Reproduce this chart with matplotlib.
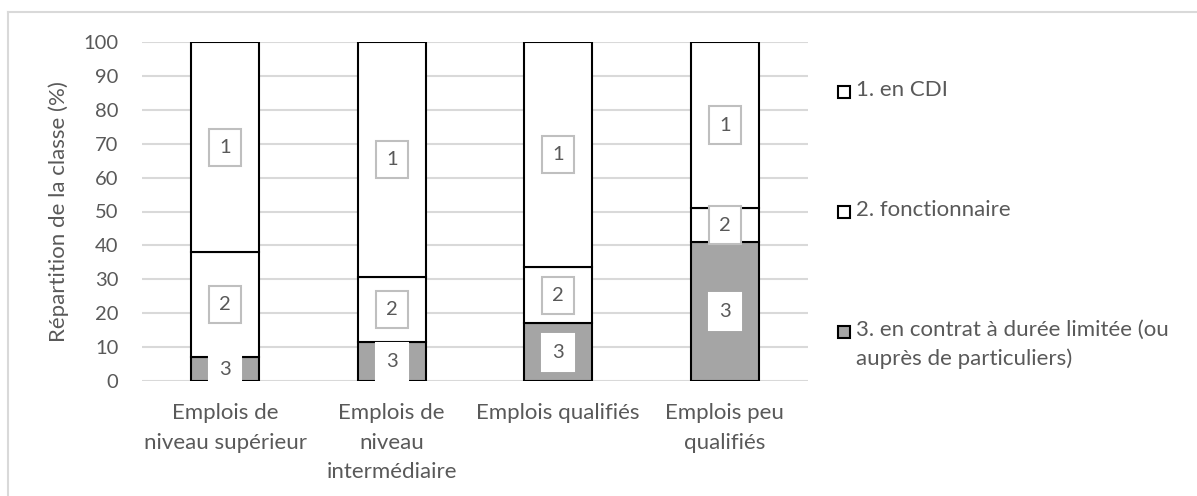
import numpy as np
import matplotlib.pyplot as plt
from matplotlib.patches import Rectangle
from matplotlib.lines import Line2D

plt.rcParams['font.family'] = ['Lato', 'DejaVu Sans']

categories = ['Emplois de\nniveau supérieur', 'Emplois de\nniveau\nintermédiaire',
              'Emplois qualifiés', 'Emplois peu\nqualifiés']
cdd = [7.0, 11.6, 17.0, 41.0]
fonctionnaire = [31.0, 19.2, 16.5, 10.0]
cdi = [62.0, 69.2, 66.5, 49.0]
legend_labels = ['1. en CDI', '2. fonctionnaire',
                 '3. en contrat à durée limitée (ou\nauprès de particuliers)']

txt = '#595959'
grid = '#d9d9d9'
grey = '#a5a5a5'
fs = 16      # category / legend text
fs_num = 14.5  # tick numbers and segment labels

W, H = 1197, 496
fig = plt.figure(figsize=(W / 100, H / 100), dpi=100)
ax = fig.add_axes([142 / W, 1 - 381 / H, (808 - 142) / W, (381 - 42) / H])

x = np.arange(len(categories))
w = 0.41
b3 = np.zeros(len(x))
b2 = b3 + np.array(cdd)
b1 = b2 + np.array(fonctionnaire)

ax.bar(x, cdd, w, bottom=b3, color=grey, edgecolor='black', linewidth=1.5, zorder=3)
ax.bar(x, fonctionnaire, w, bottom=b2, color='white', edgecolor='black', linewidth=1.5, zorder=3)
ax.bar(x, cdi, w, bottom=b1, color='white', edgecolor='black', linewidth=1.5, zorder=3)

# segment labels
box_grey = dict(boxstyle='square,pad=0.5', fc='white', ec='#bfbfbf', lw=1.5)
box_white = dict(boxstyle='square,pad=0.5', fc='white', ec='white', lw=1.5)
for i in range(len(x)):
    ax.text(x[i], b1[i] + cdi[i] / 2, '1', ha='center', va='center', color=txt,
            fontsize=fs_num, zorder=5, bbox=box_grey)
    ax.text(x[i], b2[i] + fonctionnaire[i] / 2, '2', ha='center', va='center', color=txt,
            fontsize=fs_num, zorder=5, bbox=box_grey)
    ax.text(x[i], b3[i] + cdd[i] / 2, '3', ha='center', va='center', color=txt,
            fontsize=fs_num, zorder=5, bbox=box_white)

ax.set_xlim(-0.5, 3.5)
ax.set_ylim(0, 100)
ax.set_yticks(np.arange(0, 101, 10))
ax.set_xticks(x)
ax.set_xticklabels(categories, linespacing=1.6)
ax.yaxis.grid(True, color=grid, linewidth=1.5, zorder=0)
ax.set_axisbelow(True)
for s in ax.spines.values():
    s.set_visible(False)
ax.tick_params(axis='y', length=0, pad=17, labelsize=fs_num, labelcolor=txt)
ax.tick_params(axis='x', length=0, pad=16, labelsize=fs, labelcolor=txt)
ax.set_ylabel('Répartition de la classe (%)', fontsize=fs, color=txt, labelpad=10)

# legend
fills = ['white', 'white', grey]
ys = [92, 212, 332]
for f, y, lab in zip(fills, ys, legend_labels):
    fig.patches.append(Rectangle((838 / W, 1 - (y + 6) / H), 12 / W, 12 / H,
                                 transform=fig.transFigure, fc=f, ec='black', lw=1.5))
    fig.text(856 / W, 1 - (y - 12) / H, lab, ha='left', va='top', fontsize=fs, color=txt,
             linespacing=1.5)

# outer frame
fig.add_artist(Line2D([8 / W, 1], [1 - 12 / H, 1 - 12 / H], color=grid, lw=1.5,
                      transform=fig.transFigure))
fig.add_artist(Line2D([8 / W, 8 / W], [0, 1 - 12 / H], color=grid, lw=1.5,
                      transform=fig.transFigure))

fig.savefig('out.png', dpi=100)
